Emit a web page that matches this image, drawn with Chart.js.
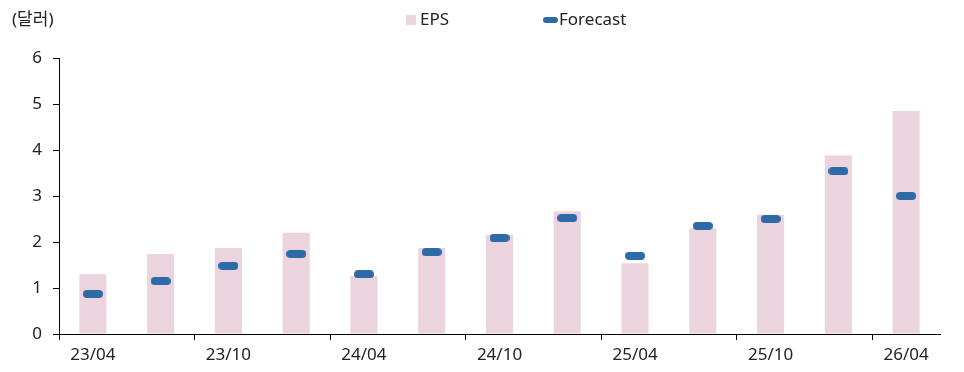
<!DOCTYPE html>
<html>
<head>
<meta charset="utf-8">
<script src="https://cdn.jsdelivr.net/npm/chart.js@4"></script>
<style>
  html, body { margin: 0; padding: 0; background: #fff; }
  #wrap { width: 964px; height: 372px; position: relative; }
</style>
</head>
<body>
<div id="wrap"><canvas id="epsChart"></canvas></div>
<script>
// quarters, only every other one gets a label
const quarters = ['23/04', '23/07', '23/10', '24/01', '24/04', '24/07', '24/10',
                  '25/01', '25/04', '25/07', '25/10', '26/01', '26/04'];
const epsValues = [1.30, 1.74, 1.87, 2.20, 1.26, 1.87, 2.15, 2.67, 1.54, 2.30, 2.59, 3.88, 4.85];
const forecastValues = [0.87, 1.15, 1.48, 1.74, 1.30, 1.78, 2.09, 2.52, 1.70, 2.35, 2.50, 3.54, 3.00];
const yTicks = [0, 1, 2, 3, 4, 5, 6];

const FONT = '"Noto Sans", "Noto Sans CJK KR", sans-serif';
const PINK = 'rgb(236, 212, 222)';
const BLUE = 'rgb(46, 106, 168)';

// rounded dash used as the forecast marker
function makeDash(w, h) {
    const c = document.createElement('canvas');
    c.width = w;
    c.height = h;
    const g = c.getContext('2d');
    g.fillStyle = BLUE;
    g.beginPath();
    g.roundRect(0, 0, w, h, h / 2);
    g.fill();
    return c;
}
const dash = makeDash(20, 8);
const smallDash = makeDash(15, 6);

// unit label and legend drawn on top
const headerPlugin = {
    id: 'header',
    afterDraw(chart) {
        const ctx = chart.ctx;
        ctx.save();
        ctx.font = '17px ' + FONT;
        ctx.fillStyle = '#222';
        ctx.textBaseline = 'middle';
        ctx.textAlign = 'left';
        ctx.fillText('(달러)', 12, 20);

        ctx.fillStyle = PINK;
        ctx.fillRect(406, 15, 10, 10);
        ctx.fillStyle = '#222';
        ctx.fillText(chart.data.datasets[0].label, 420, 20);

        ctx.drawImage(smallDash, 543, 17);
        ctx.fillStyle = '#222';
        ctx.fillText(chart.data.datasets[1].label, 559, 20);
        ctx.restore();
    }
};

const ctx = document.getElementById('epsChart').getContext('2d');
new Chart(ctx, {
    type: 'bar',
    data: {
        labels: quarters,
        datasets: [{
            label: 'EPS',
            data: epsValues,
            backgroundColor: PINK,
            barPercentage: 0.4,
            categoryPercentage: 1.0,
            order: 2
        }, {
            type: 'line',
            label: 'Forecast',
            data: forecastValues,
            showLine: false,
            pointStyle: dash,
            order: 1
        }]
    },
    options: {
        responsive: true,
        maintainAspectRatio: false,
        animation: false,
        layout: { padding: { top: 58, right: 24, left: 0, bottom: 0 } },
        plugins: {
            legend: { display: false },
            tooltip: { enabled: false }
        },
        scales: {
            x: {
                afterFit: scale => { scale.height = 38; },
                border: { color: '#000', width: 1 },
                grid: {
                    offset: true,
                    drawOnChartArea: false,
                    tickLength: 6,
                    tickColor: c => (c.index !== undefined && c.index % 2 === 0) ? '#000' : 'rgba(0,0,0,0)'
                },
                ticks: {
                    autoSkip: false,
                    maxRotation: 0,
                    padding: 5,
                    color: '#222',
                    font: { family: FONT, size: 17 },
                    callback: function(value, index) {
                        return index % 2 === 0 ? quarters[index] : '';
                    }
                }
            },
            y: {
                min: yTicks[0],
                max: yTicks[yTicks.length - 1],
                afterFit: scale => { scale.width = 59; },
                afterBuildTicks: scale => { scale.ticks = yTicks.map(v => ({ value: v })); },
                border: { color: '#000', width: 1 },
                grid: {
                    drawOnChartArea: false,
                    tickLength: 6,
                    tickColor: '#000'
                },
                ticks: {
                    padding: 11,
                    color: '#222',
                    font: { family: FONT, size: 17 }
                }
            }
        }
    },
    plugins: [headerPlugin]
});
</script>
</body>
</html>
